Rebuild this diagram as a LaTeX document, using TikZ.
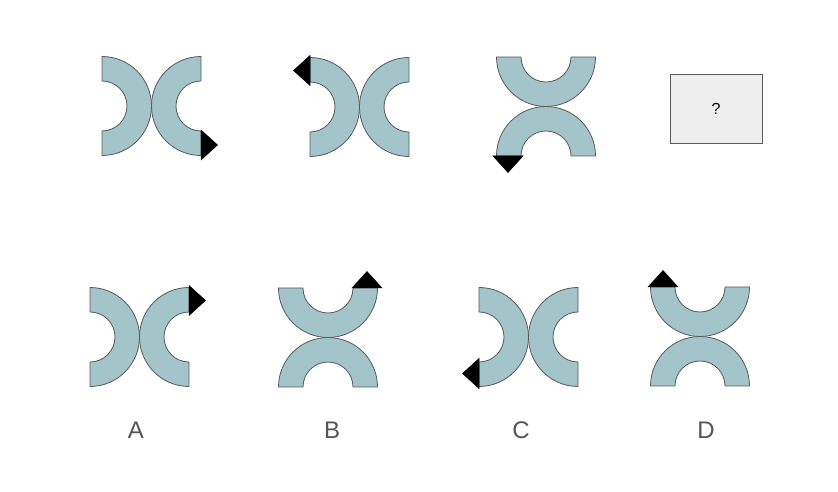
\documentclass[tikz,border=0pt]{standalone}
\usepackage{fontspec}
\setmainfont{Liberation Sans}
\definecolor{ringfill}{HTML}{A3C4C9}
\definecolor{ringline}{HTML}{5A5A5A}
\definecolor{boxfill}{HTML}{EEEEEE}
\definecolor{labelgray}{HTML}{555555}
\tikzset{
  ringstyle/.style={fill=ringfill,draw=ringline,line width=0.8pt,line join=round},
  tristyle/.style={fill=black,draw=black,line width=0.5pt,line join=miter},
  half/.pic={\path[ringstyle] (49.5,0) arc[start angle=0,end angle=180,radius=49.5] -- (-25,0) arc[start angle=180,end angle=0,radius=25] -- cycle;},
  tri/.pic={\path[tristyle] (0,-15) -- (16.5,0) -- (0,15) -- cycle;},
  lbl/.style={text=labelgray,font=\fontsize{24}{28}\selectfont,inner sep=0pt},
  qbox/.style={fill=boxfill,draw=ringline,line width=0.8pt,minimum width=92pt,minimum height=69pt,inner sep=0pt,font=\fontsize{16}{18}\selectfont}
}
\begin{document}
\begin{tikzpicture}[x=1pt,y=1pt]
\useasboundingbox[fill=white] (0,0) rectangle (838,492);
% Figure 1
\pic[rotate=-90] at (102,386) {half};
\pic[rotate=90] at (201,386) {half};
\pic[rotate=0] at (201,347) {tri};
% Figure 2
\pic[rotate=-90] at (310,385) {half};
\pic[rotate=90] at (409,385) {half};
\pic[rotate=180] at (310,421.5) {tri};
% Figure 3
\pic[rotate=180] at (546,435) {half};
\pic[rotate=0] at (546,336) {half};
\pic[rotate=-90] at (508,336) {tri};
% Question box
\node[qbox] (q) at (716,383.5) {?};
% Option A
\pic[rotate=-90] at (90,155) {half};
\pic[rotate=90] at (189,155) {half};
\pic[rotate=0] at (189,191.5) {tri};
% Option B
\pic[rotate=180] at (328,204) {half};
\pic[rotate=0] at (328,105) {half};
\pic[rotate=90] at (367,204) {tri};
% Option C
\pic[rotate=-90] at (479,155) {half};
\pic[rotate=90] at (578,155) {half};
\pic[rotate=180] at (479,118.5) {tri};
% Option D
\pic[rotate=180] at (700,205) {half};
\pic[rotate=0] at (700,106) {half};
\pic[rotate=90] at (663,205) {tri};
% Labels
\node[lbl] (la) at (136,62) {A};
\node[lbl] (lb) at (332,62) {B};
\node[lbl] (lc) at (521,62) {C};
\node[lbl] (ld) at (706,62) {D};
\end{tikzpicture}
\end{document}
